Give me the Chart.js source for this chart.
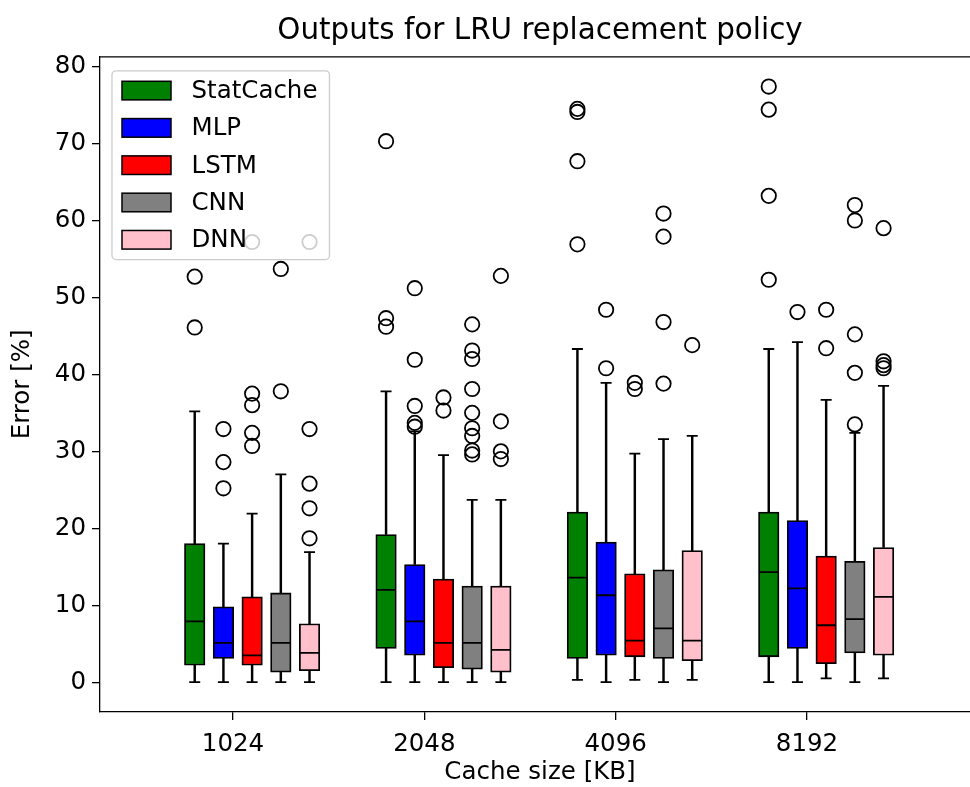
<!DOCTYPE html>
<html><head><meta charset="utf-8">
<script src="https://cdn.jsdelivr.net/npm/chart.js@4.4.1/dist/chart.umd.min.js"></script>
<style>html,body{margin:0;padding:0;background:#fff;overflow:hidden}</style>
</head><body>
<canvas id="c" width="970" height="787" style="width:970px;height:787px;display:block"></canvas>
<script>
// ---------------- data ----------------
const categories = ['1024', '2048', '4096', '8192'];
const seriesNames = ['StatCache', 'MLP', 'LSTM', 'CNN', 'DNN'];
const seriesColors = ['#008000', '#0000ff', '#ff0000', '#808080', '#ffc0cb'];
const yTicks = [0, 10, 20, 30, 40, 50, 60, 70, 80];

// each row = one series, each column = one cache size
const whiskerLow = [
  [0, 0, 0.3, 0],
  [0, 0, 0, 0],
  [0, 0, 0.3, 0.5],
  [0, 0, 0, 0],
  [0, 0, 0.3, 0.5]
];
const q1 = [
  [2.2, 4.4, 3.1, 3.3],
  [3.1, 3.5, 3.5, 4.4],
  [2.2, 1.9, 3.3, 2.4],
  [1.3, 1.7, 3.1, 3.8],
  [1.5, 1.3, 2.8, 3.5]
];
const median = [
  [7.9, 12.0, 13.6, 14.3],
  [5.1, 7.9, 11.3, 12.2],
  [3.5, 5.1, 5.4, 7.4],
  [5.1, 5.1, 7.0, 8.2],
  [3.8, 4.2, 5.4, 11.1]
];
const q3 = [
  [18.0, 19.2, 22.1, 22.1],
  [9.8, 15.3, 18.2, 21.0],
  [11.1, 13.4, 14.1, 16.4],
  [11.6, 12.5, 14.6, 15.7],
  [7.6, 12.5, 17.1, 17.5]
];
const whiskerHigh = [
  [35.2, 37.8, 43.3, 43.3],
  [18.0, 32.6, 38.9, 44.2],
  [21.9, 29.5, 29.7, 36.7],
  [27.0, 23.7, 31.6, 32.4],
  [16.9, 23.7, 32.0, 38.5]
];
const outliers = [
  [[46.1, 52.7], [46.2, 47.3, 70.3], [56.9, 67.7, 74.1, 74.5], [52.3, 63.2, 74.4, 77.4]],
  [[25.2, 28.6, 32.9], [33.2, 33.7, 35.9, 41.9, 51.2], [40.8, 48.4], [48.1]],
  [[30.7, 32.4, 36.0, 37.5, 57.2], [35.3, 37.0], [38.1, 38.9], [43.4, 48.4]],
  [[37.8, 53.7], [29.6, 30.1, 32.0, 33.0, 35.0, 38.1, 42.0, 43.1, 46.5], [38.8, 46.8, 57.9, 60.9], [33.5, 40.2, 45.2, 60.0, 62.0]],
  [[18.7, 22.6, 25.8, 32.9, 57.2], [29.0, 30.0, 33.9, 52.8], [43.8], [40.8, 41.2, 41.7, 59.0]]
];

// ---------------- build ----------------
const FONT = 'DejaVu Sans';
const FS = 24.5;
const LW = 1.8;
const AXES_OVERHANG = 10; // the axes box continues past the right edge of the picture
function pos(g, s) { return g + 0.1 + (s - 2) * 0.15; }

const datasets = [];
seriesNames.forEach((name, s) => {
  datasets.push({
    type: 'bar', label: name + ' whiskers', grouped: false, barThickness: LW,
    backgroundColor: '#000', borderWidth: 0, order: 3,
    data: categories.flatMap((c, g) => [
      { x: pos(g, s), y: [whiskerLow[s][g], q1[s][g]] },
      { x: pos(g, s), y: [q3[s][g], whiskerHigh[s][g]] }
    ])
  });
  datasets.push({
    type: 'bar', label: name, legendEntry: true, grouped: false, barThickness: 20.5,
    backgroundColor: seriesColors[s], borderColor: '#000', borderWidth: LW, borderSkipped: false,
    order: 2,
    data: categories.map((c, g) => ({ x: pos(g, s), y: [q1[s][g], q3[s][g]] }))
  });
  datasets.push({
    type: 'scatter', label: name + ' median', pointStyle: 'line', pointRadius: 9.8,
    borderColor: '#000', borderWidth: LW, order: 1,
    data: categories.map((c, g) => ({ x: pos(g, s), y: median[s][g] }))
  });
  datasets.push({
    type: 'scatter', label: name + ' caps', pointStyle: 'line', pointRadius: 5.5,
    borderColor: '#000', borderWidth: LW, order: 1,
    data: categories.flatMap((c, g) => [
      { x: pos(g, s), y: whiskerLow[s][g] },
      { x: pos(g, s), y: whiskerHigh[s][g] }
    ])
  });
  datasets.push({
    type: 'scatter', label: name + ' outliers', pointStyle: 'circle', pointRadius: 7.2,
    backgroundColor: 'rgba(0,0,0,0)', borderColor: '#000', borderWidth: LW, order: 1,
    data: categories.flatMap((c, g) => outliers[s][g].map(v => ({ x: pos(g, s), y: v })))
  });
});

const extendPlugin = {
  id: 'extendRight',
  afterLayout(chart) {
    const x = chart.scales.x;
    x.right += AXES_OVERHANG;
    x.width += AXES_OVERHANG;
    x.configure();
    chart.chartArea.right += AXES_OVERHANG;
    chart.chartArea.width += AXES_OVERHANG;
    const t = chart.titleBlock;
    if (t) { t.right += AXES_OVERHANG; t.width += AXES_OVERHANG; }
  }
};

const framePlugin = {
  id: 'frame',
  afterDatasetsDraw(chart) {
    const { ctx, chartArea: a } = chart;
    ctx.save();
    ctx.strokeStyle = '#000';
    ctx.lineWidth = 1.3;
    ctx.beginPath();
    ctx.moveTo(a.left, a.top); ctx.lineTo(a.right, a.top);
    ctx.stroke();
    ctx.restore();
  }
};

const legendPlugin = {
  id: 'boxLegend',
  afterDatasetsDraw(chart) {
    const { ctx, chartArea: a } = chart;
    const items = chart.data.datasets.filter(d => d.legendEntry);
    ctx.save();
    ctx.font = FS + 'px "' + FONT + '"';
    const left = a.left + 12, top = a.top + 14;
    const rowH = 37.3, patchW = 49, patchH = 18.6, padX = 10, gap = 20.5;
    const textW = Math.max(...items.map(d => ctx.measureText(d.label).width));
    const w = padX + patchW + gap + textW + 12;
    const h = 19.8 * 2 + rowH * (items.length - 1);
    ctx.beginPath();
    ctx.roundRect(left, top, w, h, 4);
    ctx.fillStyle = 'rgba(255,255,255,0.8)';
    ctx.fill();
    ctx.strokeStyle = '#cccccc';
    ctx.lineWidth = 1.3;
    ctx.stroke();
    items.forEach((d, i) => {
      const cy = top + 19.8 + i * rowH;
      ctx.fillStyle = d.backgroundColor;
      ctx.fillRect(left + padX, cy - patchH / 2, patchW, patchH);
      ctx.strokeStyle = '#000';
      ctx.lineWidth = 1.5;
      ctx.strokeRect(left + padX, cy - patchH / 2, patchW, patchH);
      ctx.fillStyle = '#000';
      ctx.textBaseline = 'middle';
      ctx.textAlign = 'left';
      ctx.fillText(d.label, left + padX + patchW + gap, cy + 1);
    });
    ctx.restore();
  }
};

Chart.defaults.font.family = FONT;
Chart.defaults.color = '#000';

new Chart(document.getElementById('c'), {
  type: 'bar',
  data: { datasets },
  options: {
    responsive: false,
    animation: false,
    events: [],
    devicePixelRatio: 1,
    layout: { autoPadding: false, padding: { left: 0, right: 0, top: 0, bottom: 0 } },
    plugins: {
      legend: { display: false },
      tooltip: { enabled: false },
      title: {
        display: true, text: 'Outputs for LRU replacement policy', fullSize: false,
        font: { size: 29.4, weight: 'normal' }, color: '#000',
        padding: { top: 14, bottom: 7.5 }
      }
    },
    scales: {
      x: {
        type: 'linear', min: -0.695, max: 3.904, offset: false,
        afterBuildTicks: s => { s.ticks = categories.map((c, i) => ({ value: i })); },
        afterFit: s => { s.height = 75; },
        ticks: { callback: v => categories[v], font: { size: FS }, color: '#000', padding: 10, maxRotation: 0, autoSkip: false },
        grid: { display: true, drawOnChartArea: false, drawTicks: true, tickLength: 8, color: '#000', lineWidth: 1.3, offset: false },
        border: { display: true, color: '#000', width: 1.3 },
        title: { display: true, text: 'Cache size [KB]', font: { size: FS }, color: '#000', padding: { top: 0, bottom: 0 } }
      },
      y: {
        type: 'linear', min: -3.87, max: 81.27,
        afterBuildTicks: s => { s.ticks = yTicks.map(v => ({ value: v })); },
        afterFit: s => { s.width = 100; },
        ticks: { font: { size: FS }, color: '#000', padding: 6 },
        grid: { display: true, drawOnChartArea: false, drawTicks: true, tickLength: 8, color: '#000', lineWidth: 1.3 },
        border: { display: true, color: '#000', width: 1.3 },
        title: { display: true, text: 'Error [%]', font: { size: FS }, color: '#000', padding: { top: 8, bottom: 0 } }
      }
    }
  },
  plugins: [extendPlugin, framePlugin, legendPlugin]
});
</script>
</body></html>
